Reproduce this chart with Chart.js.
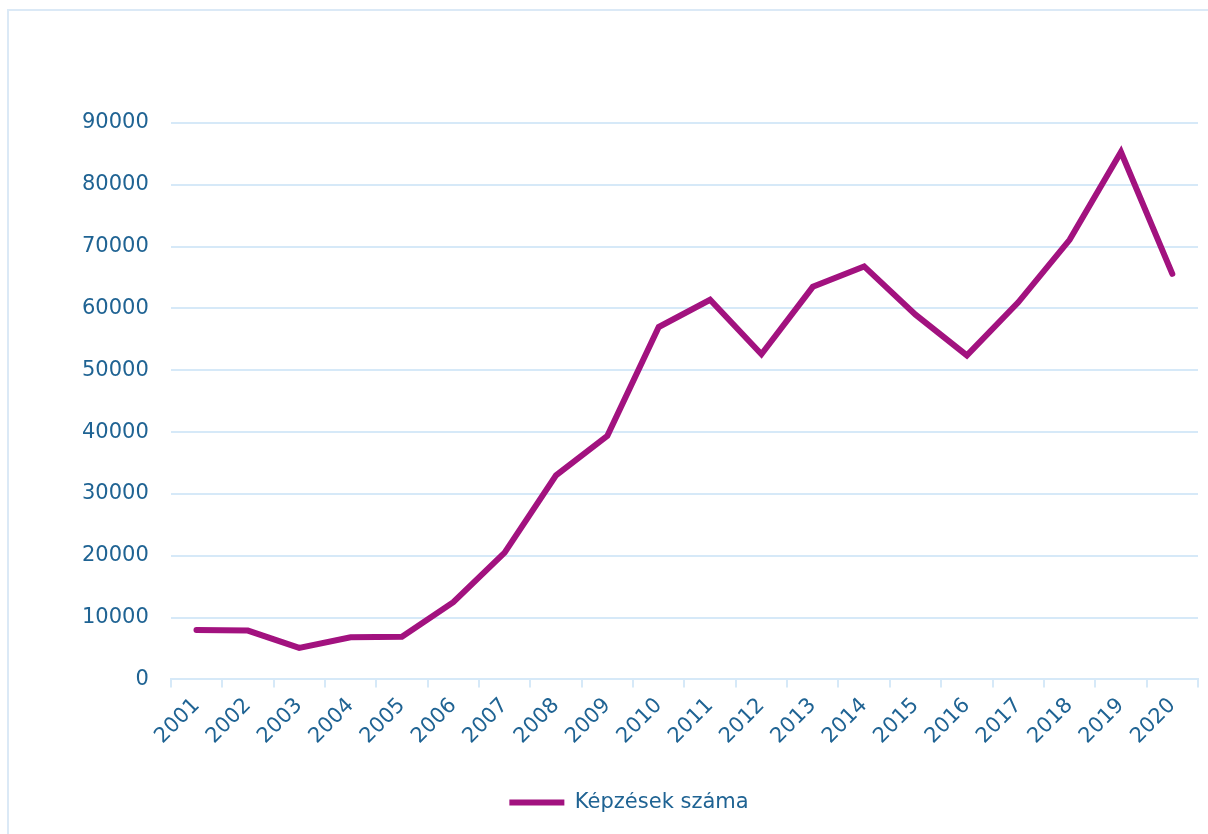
<!DOCTYPE html>
<html>
<head>
<meta charset="utf-8">
<script src="https://cdn.jsdelivr.net/npm/chart.js@4"></script>
<style>
    html, body { margin: 0; padding: 0; background: #fff; overflow: hidden; }
    #frame { position: absolute; left: 7px; top: 9px; width: 1400px; height: 1000px; border: 2px solid #dbe9f6; }
    #wrap { position: absolute; left: 0; top: 0; width: 1208px; height: 834px; }
</style>
</head>
<body>
<div id="frame"></div>
<div id="wrap"><canvas id="kepzesChart"></canvas></div>
<script>
const years = ['2001', '2002', '2003', '2004', '2005', '2006', '2007', '2008', '2009', '2010',
    '2011', '2012', '2013', '2014', '2015', '2016', '2017', '2018', '2019', '2020'];
const kepzesek = [8000, 7900, 5100, 6800, 6900, 12500, 20500, 33000, 39400, 57000,
    61400, 52600, 63500, 66800, 59000, 52400, 61000, 71100, 85300, 65600];
const yTicks = [0, 10000, 20000, 30000, 40000, 50000, 60000, 70000, 80000, 90000];

const textColor = '#1f6393';
const gridColor = '#d6e9f8';
const lineColor = '#a2127f';
const fontFamily = '"DejaVu Sans", sans-serif';

const ctx = document.getElementById('kepzesChart').getContext('2d');
new Chart(ctx, {
    type: 'line',
    data: {
        labels: years,
        datasets: [{
            label: 'Képzések száma',
            data: kepzesek,
            borderColor: lineColor,
            backgroundColor: lineColor,
            borderWidth: 6,
            borderCapStyle: 'round',
            borderJoinStyle: 'miter',
            pointRadius: 0,
            tension: 0
        }]
    },
    options: {
        responsive: true,
        maintainAspectRatio: false,
        animation: false,
        layout: {
            padding: { left: 60, right: 10, top: 123, bottom: 11 }
        },
        plugins: {
            tooltip: { enabled: false },
            legend: {
                position: 'bottom',
                labels: {
                    usePointStyle: true,
                    pointStyle: 'line',
                    pointStyleWidth: 55,
                    color: textColor,
                    padding: 0,
                    font: { family: fontFamily, size: 21 }
                }
            }
        },
        scales: {
            x: {
                offset: true,
                grid: {
                    display: true,
                    drawOnChartArea: false,
                    offset: true,
                    color: gridColor,
                    lineWidth: 2,
                    tickLength: 8
                },
                border: { display: true, color: gridColor, width: 2 },
                ticks: {
                    color: textColor,
                    font: { family: fontFamily, size: 21 },
                    maxRotation: 45,
                    minRotation: 45,
                    autoSkip: false,
                    padding: 6
                },
                afterFit: axis => { axis.height += 37; }
            },
            y: {
                min: 0,
                max: 90000,
                afterBuildTicks: axis => {
                    axis.ticks = yTicks.map(v => ({ value: v }));
                },
                grid: {
                    color: gridColor,
                    lineWidth: 2,
                    drawTicks: false
                },
                border: { display: false },
                ticks: {
                    color: textColor,
                    font: { family: fontFamily, size: 21 },
                    padding: 22,
                    callback: v => String(v)
                }
            }
        }
    }
});
</script>
</body>
</html>
